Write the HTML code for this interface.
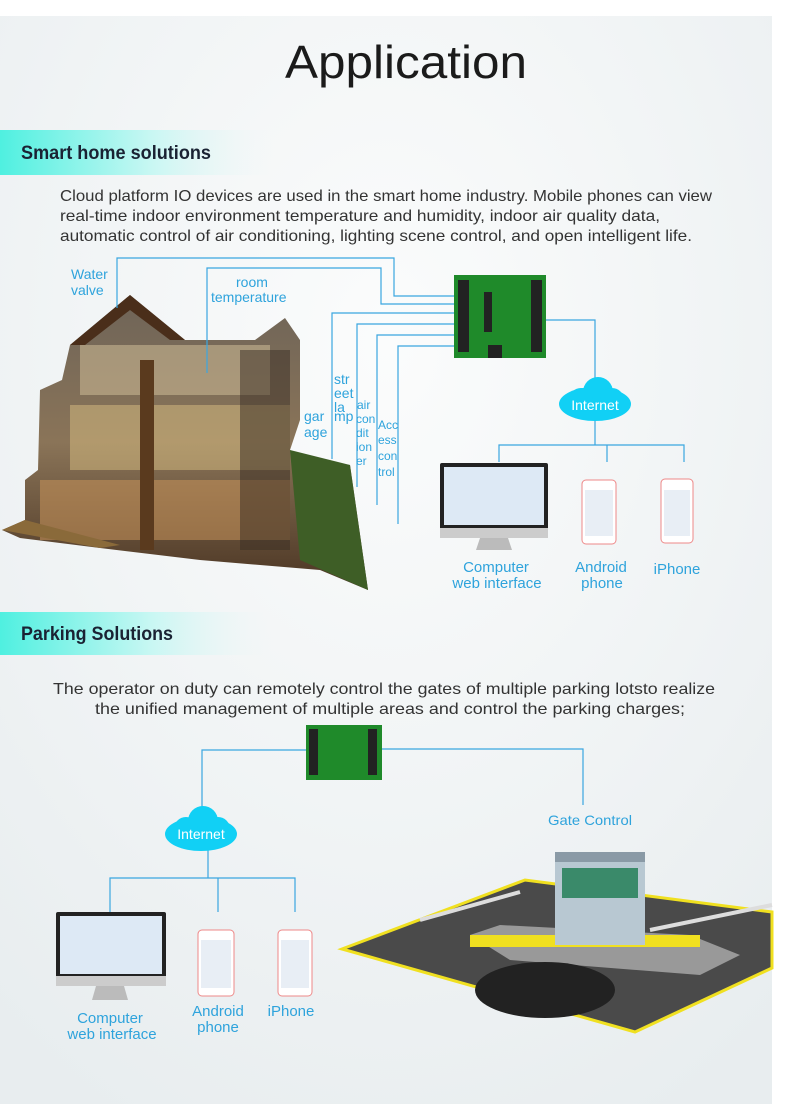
<!DOCTYPE html>
<html><head><meta charset="utf-8"><style>
html,body{margin:0;padding:0;background:#fff}
svg{display:block}
text{font-family:"Liberation Sans",sans-serif}
</style></head><body>
<svg width="790" height="1104" viewBox="0 0 790 1104" xmlns="http://www.w3.org/2000/svg">
<defs>
<radialGradient id="bg" cx="0.5" cy="0.3" r="0.8">
<stop offset="0" stop-color="#fbfcfc"/><stop offset="1" stop-color="#e8edef"/></radialGradient>
<linearGradient id="hdr" x1="0" x2="1"><stop offset="0" stop-color="#4ff0e0"/><stop offset="0.55" stop-color="#c8f7f3"/><stop offset="1" stop-color="#f2f6f7" stop-opacity="0"/></linearGradient>
<linearGradient id="house" x1="0" y1="0" x2="0" y2="1"><stop offset="0" stop-color="#6e6458"/><stop offset="0.5" stop-color="#8a7458"/><stop offset="1" stop-color="#4a3422"/></linearGradient>
</defs>
<rect x="0" y="16" width="772" height="1088" fill="url(#bg)"/>
<rect x="772" y="0" width="18" height="1104" fill="#fff"/>
<rect x="0" y="0" width="790" height="16" fill="#fff"/>
<text x="406" y="78" font-size="46" fill="#1b1b1b" text-anchor="middle" textLength="242" lengthAdjust="spacingAndGlyphs">Application</text>

<rect x="0" y="130" width="275" height="45" fill="url(#hdr)"/>
<text x="21" y="159" font-size="19" font-weight="bold" fill="#1a2233" textLength="190" lengthAdjust="spacingAndGlyphs">Smart home solutions</text>
<g font-size="16" fill="#333">
<text x="60" y="201" textLength="652" lengthAdjust="spacingAndGlyphs">Cloud platform IO devices are used in the smart home industry. Mobile phones can view</text>
<text x="60" y="221" textLength="600" lengthAdjust="spacingAndGlyphs">real-time indoor environment temperature and humidity, indoor air quality data,</text>
<text x="60" y="241" textLength="632" lengthAdjust="spacingAndGlyphs">automatic control of air conditioning, lighting scene control, and open intelligent life.</text>
</g>

<!-- house -->
<polygon points="2,530 25,520 25,480 38,470 40,390 62,380 70,345 130,295 185,340 255,340 285,318 300,340 300,420 290,450 300,460 350,465 368,590 320,570 200,560 100,548 20,538" fill="url(#house)"/>
<polygon points="70,345 130,295 185,340 170,340 130,310 85,345" fill="#4a2e1a"/>
<rect x="80" y="345" width="190" height="50" fill="#cdbb98" opacity="0.55"/>
<rect x="70" y="405" width="220" height="65" fill="#e2c888" opacity="0.45"/>
<rect x="40" y="480" width="250" height="60" fill="#c8945a" opacity="0.55"/>
<rect x="140" y="360" width="14" height="190" fill="#5a3a1e"/>
<rect x="240" y="350" width="50" height="200" fill="#3a2e24" opacity="0.5"/>
<polygon points="290,450 350,465 368,590 300,560" fill="#3e5e26"/>
<polygon points="2,530 25,520 120,545 100,548" fill="#8a6a3a"/>

<g fill="none" stroke="#3aa6e0" stroke-width="1.2">
<path d="M117,308 V258 H394 V296 H454"/>
<path d="M207,373 V268 H381 V304 H454"/>
<path d="M332,459 V313 H454"/>
<path d="M357,487 V324 H454"/>
<path d="M377,505 V335 H454"/>
<path d="M398,524 V346 H454"/>
<path d="M546,320 H595 V378"/>
<path d="M595,420 V445 M499,462 V445 H684 V462 M607,445 V462"/>
<path d="M202,808 V750 H306 M382,749 H583 V805"/>
<path d="M208,850 V878 M110,912 V878 H295 V912 M218,878 V912"/>
</g>
<g font-size="14" fill="#2ea3dc">
<text x="71" y="279">Water</text><text x="71" y="295">valve</text>
<text x="236" y="287">room</text><text x="211" y="302">temperature</text>
<text x="334" y="384">str</text><text x="334" y="398">eet</text><text x="334" y="412">la</text><text x="334" y="421">mp</text>
<text x="304" y="421">gar</text><text x="304" y="437">age</text>
<text x="357" y="409" font-size="12">air</text><text x="356" y="423" font-size="12">con</text><text x="356" y="437" font-size="12">dit</text><text x="356" y="451" font-size="12">ion</text><text x="356" y="465" font-size="12">er</text>
<text x="378" y="429" font-size="12">Acc</text><text x="378" y="444" font-size="12">ess</text><text x="378" y="460" font-size="12">con</text><text x="378" y="476" font-size="12">trol</text>
</g>

<!-- board 1 -->
<rect x="454" y="275" width="92" height="83" fill="#1f8a2a"/>
<g fill="#222"><rect x="458" y="280" width="11" height="72"/><rect x="531" y="280" width="11" height="72"/><rect x="484" y="292" width="8" height="40"/><rect x="488" y="345" width="14" height="13"/></g>
<!-- cloud 1 -->
<g fill="#11d0f5"><ellipse cx="595" cy="404" rx="36" ry="17"/><circle cx="598" cy="392" r="15"/><circle cx="581" cy="400" r="12"/><circle cx="612" cy="400" r="12"/></g>
<text x="595" y="410" font-size="14" fill="#fff" text-anchor="middle">Internet</text>
<!-- monitor 1 -->
<rect x="440" y="463" width="108" height="70" fill="#222" rx="2"/><rect x="444" y="467" width="100" height="58" fill="#dde9f5"/>
<rect x="440" y="528" width="108" height="10" fill="#ccc"/><polygon points="480,538 508,538 512,550 476,550" fill="#bbb"/>
<rect x="582" y="480" width="34" height="64" rx="4" fill="#fff" stroke="#e88"/><rect x="585" y="490" width="28" height="46" fill="#e8eef5"/>
<rect x="661" y="479" width="32" height="64" rx="4" fill="#fff" stroke="#e88"/><rect x="664" y="490" width="26" height="46" fill="#e8eef5"/>
<g font-size="15" fill="#2ea3dc" text-anchor="middle">
<text x="496" y="572">Computer</text><text x="497" y="588">web interface</text>
<text x="601" y="572">Android</text><text x="602" y="588">phone</text>
<text x="677" y="574">iPhone</text>
</g>

<rect x="0" y="612" width="275" height="43" fill="url(#hdr)"/>
<text x="21" y="640" font-size="19" font-weight="bold" fill="#1a2233" textLength="152" lengthAdjust="spacingAndGlyphs">Parking Solutions</text>
<g font-size="16" fill="#333">
<text x="53" y="694" textLength="662" lengthAdjust="spacingAndGlyphs">The operator on duty can remotely control the gates of multiple parking lotsto realize</text>
<text x="95" y="714" textLength="590" lengthAdjust="spacingAndGlyphs">the unified management of multiple areas and control the parking charges;</text>
</g>
<!-- board 2 -->
<rect x="306" y="725" width="76" height="55" fill="#1f8a2a"/>
<g fill="#222"><rect x="309" y="729" width="9" height="46"/><rect x="368" y="729" width="9" height="46"/></g>
<!-- cloud 2 -->
<g fill="#11d0f5"><ellipse cx="201" cy="834" rx="36" ry="17"/><circle cx="203" cy="821" r="15"/><circle cx="186" cy="829" r="12"/><circle cx="218" cy="829" r="12"/></g>
<text x="201" y="839" font-size="14" fill="#fff" text-anchor="middle">Internet</text>
<text x="548" y="825" font-size="14" fill="#2ea3dc" textLength="84" lengthAdjust="spacingAndGlyphs">Gate Control</text>
<!-- monitor 2 -->
<rect x="56" y="912" width="110" height="70" fill="#222" rx="2"/><rect x="60" y="916" width="102" height="58" fill="#dde9f5"/>
<rect x="56" y="976" width="110" height="10" fill="#ccc"/><polygon points="96,986 124,986 128,1000 92,1000" fill="#bbb"/>
<rect x="198" y="930" width="36" height="66" rx="4" fill="#fff" stroke="#e88"/><rect x="201" y="940" width="30" height="48" fill="#e8eef5"/>
<rect x="278" y="930" width="34" height="66" rx="4" fill="#fff" stroke="#e88"/><rect x="281" y="940" width="28" height="48" fill="#e8eef5"/>
<g font-size="15" fill="#2ea3dc" text-anchor="middle">
<text x="110" y="1023">Computer</text><text x="112" y="1039">web interface</text>
<text x="218" y="1016">Android</text><text x="218" y="1032">phone</text>
<text x="291" y="1016">iPhone</text>
</g>
<!-- parking lot -->
<polygon points="342,949 525,880 772,912 772,968 635,1032" fill="#4a4a4a" stroke="#f0e020" stroke-width="3"/>
<polygon points="470,935 500,925 690,935 740,955 700,975 510,960" fill="#999"/>
<rect x="470" y="935" width="230" height="12" fill="#f0e020"/>
<rect x="555" y="860" width="90" height="85" fill="#b8c8d2"/><rect x="555" y="852" width="90" height="10" fill="#8a9aa6"/>
<rect x="562" y="868" width="76" height="30" fill="#3a8a6a"/>
<line x1="420" y1="920" x2="520" y2="892" stroke="#ddd" stroke-width="4"/>
<line x1="650" y1="930" x2="772" y2="905" stroke="#ddd" stroke-width="4"/>
<ellipse cx="545" cy="990" rx="70" ry="28" fill="#222"/>
</svg>
</body></html>
